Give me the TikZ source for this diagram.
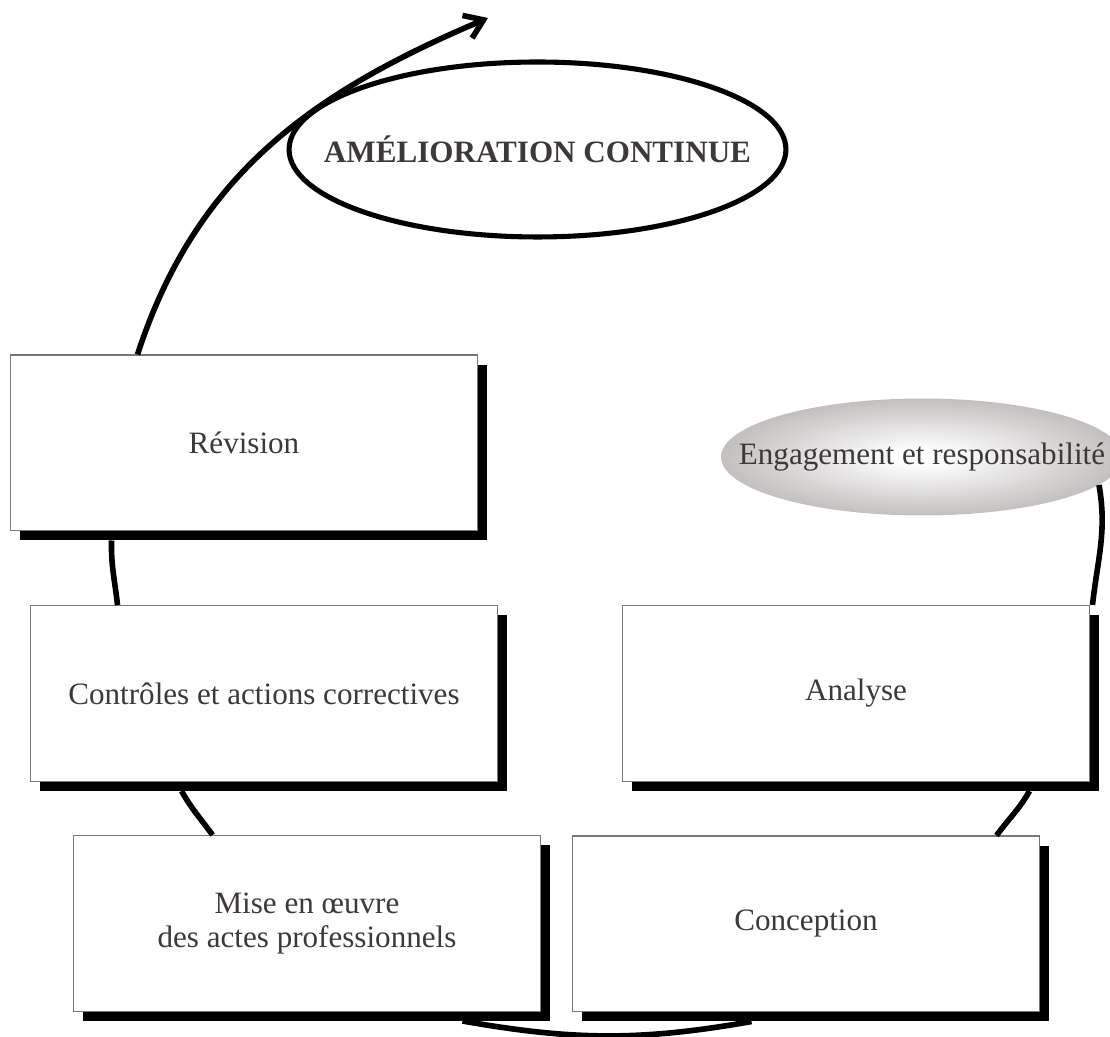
\documentclass[tikz,border=0pt]{standalone}
\usepackage{fontspec}
\setmainfont{Liberation Serif}
\usepackage{tikz}
\usetikzlibrary{shapes.geometric,shadows,calc,arrows.meta}
\definecolor{txtgray}{RGB}{62,57,57}
\definecolor{boxgray}{RGB}{125,118,118}
\definecolor{enggray}{RGB}{128,118,118}
\pgfdeclareradialshading{engshade}{\pgfpointorigin}{color(0bp)=(white); color(3bp)=(white); color(50bp)=(enggray)}

\begin{document}
\begin{tikzpicture}[
        x=0.02cm, y=0.02cm,
        every node/.style={align=center, text=txtgray, font=\fontsize{17.7}{19.5}\selectfont},
        stage/.style={rectangle, draw=boxgray, line width=0.6pt, fill=white,
            minimum width=9.36cm, minimum height=3.52cm,
            drop shadow={shadow xshift=0.19cm, shadow yshift=-0.19cm, opacity=1, fill=black}},
        ring/.style={line width=3.2pt},
    ]
    \tikzstyle{bubble}=[ellipse, inner sep=0pt]
    \useasboundingbox (0,0) rectangle (1110,1037);
    \node[bubble, draw, line width=2.9pt, minimum width=9.94cm, minimum height=3.5cm] (amel) at (537.5,887.5) {\makebox[0pt]{\textbf{AMÉLIORATION CONTINUE}}};
    \node[bubble, shading=engshade, minimum width=8.04cm, minimum height=2.34cm] (eng) at (922,580) {\makebox[0pt]{Engagement et responsabilité}};
    \node[stage] (rev) at (244,594) {Révision};
    \node[stage] (ctrl) at (264,343.5) {Contrôles et actions correctives};
    \node[stage] (mise) at (307,113.5) {Mise en œuvre\\des actes professionnels};
    \node[stage] (conc) at (806,113) {Conception};
    \node[stage] (ana) at (856,343.5) {Analyse};
    \coordinate (tip) at (488,1019);
    \draw[ring] ($(ana.north east)+(2,0)$) to[out=83.7,in=-80] (eng.-9);
    \draw[ring] ($(conc.north west)+(425,0)$) to[out=54,in=240.6] ($(ana.south west)+(408,-9)$);
    \draw[ring] ($(mise.south west)+(390,-9)$) to[out=-10,in=190] ($(conc.south west)+(180,-9)$);
    \draw[ring] ($(ctrl.south west)+(152,-9)$) to[out=299.4,in=125.9] ($(mise.north west)+(140,0)$);
    \draw[ring] ($(rev.south west)+(102,-9)$) to[out=268.7,in=96.3] ($(ctrl.north west)+(88,0)$);
    \draw[ring, -{Straight Barb[length=10pt, width=14pt]}] ($(rev.north west)+(128,0)$) to[out=72,in=203] (tip);
\end{tikzpicture}
\end{document}
